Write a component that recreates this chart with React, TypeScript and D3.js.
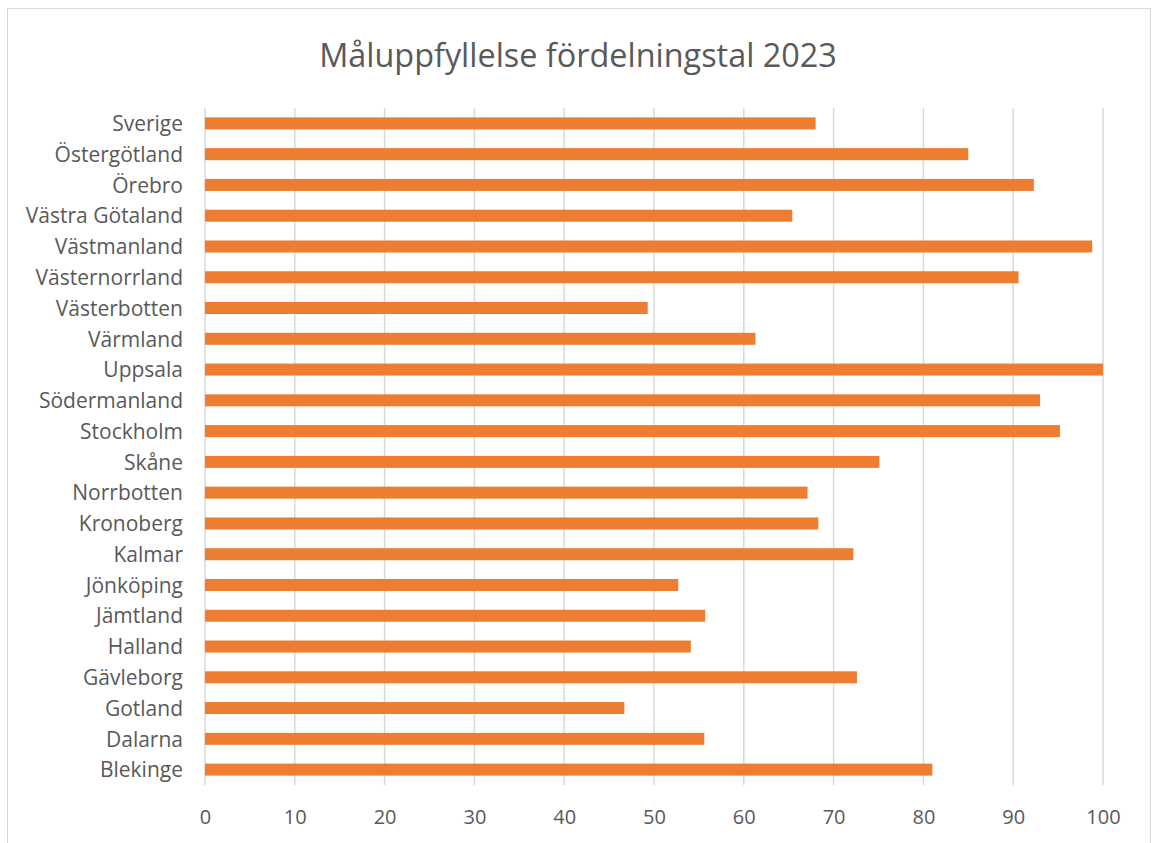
import React, { useEffect, useRef } from 'react';
import * as d3 from 'd3';

const regions = [
  'Sverige', 'Östergötland', 'Örebro', 'Västra Götaland', 'Västmanland',
  'Västernorrland', 'Västerbotten', 'Värmland', 'Uppsala', 'Södermanland',
  'Stockholm', 'Skåne', 'Norrbotten', 'Kronoberg', 'Kalmar', 'Jönköping',
  'Jämtland', 'Halland', 'Gävleborg', 'Gotland', 'Dalarna', 'Blekinge',
];
const scores = [
  68.0, 85.0, 92.3, 65.4, 98.8,
  90.6, 49.3, 61.3, 100, 93.0,
  95.2, 75.1, 67.1, 68.3, 72.2, 52.7,
  55.7, 54.1, 72.6, 46.7, 55.6, 81.0,
];
const xTicks = [0, 10, 20, 30, 40, 50, 60, 70, 80, 90, 100];
const title = 'Måluppfyllelse fördelningstal 2023';

const W = 1152;
const H = 843;
const font = '"Open Sans", sans-serif';

const App = () => {
  const ref = useRef<SVGSVGElement>(null);

  useEffect(() => {
    const svg = d3.select(ref.current);
    svg.selectAll('*').remove();

    const m = { left: 205, right: 49, top: 108, bottom: 58 };

    // ram runt diagrammet
    svg.append('rect')
      .attr('x', 7.5).attr('y', 8.5)
      .attr('width', 1143).attr('height', 850)
      .attr('fill', '#fff').attr('stroke', '#d9d9d9');

    svg.append('text')
      .attr('x', 578).attr('y', 67)
      .attr('text-anchor', 'middle')
      .attr('font-family', font).attr('font-size', 32.4)
      .attr('fill', '#595959')
      .text(title);

    const x = d3.scaleLinear().domain([0, 100]).range([m.left, W - m.right]);
    const y = d3.scaleBand().domain(regions)
      .range([m.top, H - m.bottom]).paddingInner(0.61).paddingOuter(0.305);

    // stödlinjer
    svg.append('g').selectAll('line').data(xTicks).join('line')
      .attr('x1', d => x(d)).attr('x2', d => x(d))
      .attr('y1', m.top).attr('y2', H - m.bottom)
      .attr('stroke', '#d9d9d9').attr('stroke-width', 1.5);

    svg.append('g').selectAll('rect').data(regions).join('rect')
      .attr('x', x(0))
      .attr('y', d => y(d)!)
      .attr('width', (d, i) => x(scores[i]) - x(0))
      .attr('height', y.bandwidth())
      .attr('fill', '#ed7d31');

    const yAxis = svg.append('g')
      .attr('transform', `translate(${m.left - 22},1)`)
      .call(d3.axisLeft(y).tickSize(0).tickPadding(0));
    yAxis.select('.domain').remove();
    yAxis.selectAll('text')
      .attr('font-family', font).attr('font-size', 21).attr('fill', '#595959');

    const xAxis = svg.append('g')
      .attr('transform', `translate(0,${H - m.bottom})`)
      .call(d3.axisBottom(x).tickValues(xTicks).tickSize(0).tickPadding(25));
    xAxis.select('.domain').remove();
    xAxis.selectAll('text')
      .attr('font-family', font).attr('font-size', 20).attr('fill', '#595959');
  }, []);

  return (
    <svg ref={ref} width={W} height={H}
      style={{ display: 'block', position: 'absolute', left: 0, top: 0 }} />
  );
};

export default App;
